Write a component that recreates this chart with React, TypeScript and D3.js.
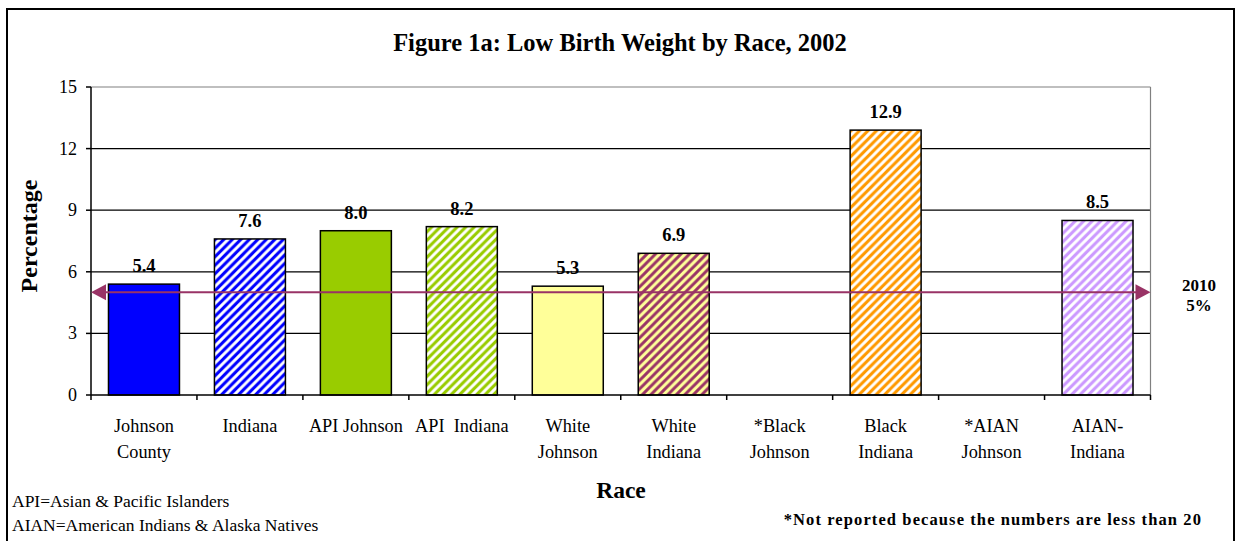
import React from "react";
import * as d3 from "d3";

const categories: string[][] = [
  ["Johnson", "County"],
  ["Indiana"],
  ["API Johnson"],
  ["API  Indiana"],
  ["White", "Johnson"],
  ["White", "Indiana"],
  ["*Black", "Johnson"],
  ["Black", "Indiana"],
  ["*AIAN", "Johnson"],
  ["AIAN-", "Indiana"],
];
const values: (number | null)[] = [5.4, 7.6, 8.0, 8.2, 5.3, 6.9, null, 12.9, null, 8.5];
const fills: string[] = ["#0000FF", "#0000FF", "#99CC00", "#99CC00", "#FFFF99", "#FFFF99", "#FF9900", "#FF9900", "#CC99FF", "#CC99FF"];
const stripes: (string | null)[] = [null, "#FFFFFF", null, "#FFFFFF", null, "#993366", null, "#FFFFFF", null, "#FFFFFF"];
const yTicks: number[] = [0, 3, 6, 9, 12, 15];
const target = 5;

const FONT = "'Liberation Serif', 'Times New Roman', serif";

export default function App() {
  const W = 1236, H = 541;
  const left = 91, right = 1150.5, top = 87, bottom = 395;
  const x = d3.scaleBand<number>().domain(d3.range(categories.length)).range([left, right]).paddingInner(0.33).paddingOuter(0.165);
  const y = d3.scaleLinear().domain([0, 15]).range([bottom, top]);
  const step = (right - left) / categories.length;
  const ty = y(target);
  const P = 8.5;

  return (
    <svg width={W} height={H} style={{ position: "absolute", left: 0, top: 0, fontFamily: FONT }}>
      <defs>
        {fills.map((f, i) =>
          stripes[i] ? (
            <pattern key={i} id={`pat${i}`} patternUnits="userSpaceOnUse" width={P} height={P}>
              <rect width={P} height={P} fill={f} />
              <path d={`M-2,2 L2,-2 M0,${P} L${P},0 M${P - 2},${P + 2} L${P + 2},${P - 2}`} stroke={stripes[i]!} strokeWidth={2.9} />
            </pattern>
          ) : null
        )}
      </defs>
      <rect x={0} y={0} width={W} height={H} fill="#fff" />
      <rect x={7} y={9} width={1227} height={H + 20} fill="none" stroke="#000" strokeWidth={2} />

      <text x={620} y={51} textAnchor="middle" fontWeight="bold" fontSize={24.5}>Figure 1a: Low Birth Weight by Race, 2002</text>

      {/* grid */}
      {yTicks.filter((t) => t > 0 && t < 15).map((t) => (
        <line key={t} x1={left} x2={right} y1={y(t)} y2={y(t)} stroke="#000" strokeWidth={1.2} />
      ))}
      <line x1={left} x2={right} y1={y(15)} y2={y(15)} stroke="#808080" strokeWidth={1.2} />
      <line x1={right} x2={right} y1={top} y2={bottom} stroke="#808080" strokeWidth={1.2} />

      {/* bars */}
      {values.map((v, i) =>
        v == null ? null : (
          <rect key={i} x={x(i)!} y={y(v)} width={x.bandwidth()} height={bottom - y(v)}
            fill={stripes[i] ? `url(#pat${i})` : fills[i]} stroke="#000" strokeWidth={1.5} />
        )
      )}
      {values.map((v, i) =>
        v == null ? null : (
          <text key={i} x={x(i)! + x.bandwidth() / 2} y={y(v) - 12} textAnchor="middle" fontWeight="bold" fontSize={18.5}>
            {v.toFixed(1)}
          </text>
        )
      )}

      {/* axes */}
      <line x1={left} x2={left} y1={top} y2={bottom} stroke="#000" strokeWidth={1.5} />
      <line x1={left} x2={right} y1={bottom} y2={bottom} stroke="#000" strokeWidth={1.5} />
      {yTicks.map((t) => (
        <g key={t}>
          <line x1={left - 5} x2={left} y1={y(t)} y2={y(t)} stroke="#000" strokeWidth={1.5} />
          <text x={77} y={y(t) + 6} textAnchor="end" fontSize={18}>{t}</text>
        </g>
      ))}
      {d3.range(categories.length + 1).map((i) => (
        <line key={i} x1={left + step * i} x2={left + step * i} y1={bottom} y2={bottom + 5} stroke="#000" strokeWidth={1.5} />
      ))}
      {categories.map((c, i) => (
        <text key={i} x={x(i)! + x.bandwidth() / 2} y={432} textAnchor="middle" fontSize={18.3}>
          {c.map((line, j) => (
            <tspan key={j} x={x(i)! + x.bandwidth() / 2} dy={j === 0 ? 0 : 25.5} style={{ whiteSpace: "pre" }}>{line}</tspan>
          ))}
        </text>
      ))}

      <text transform={`translate(37,236) rotate(-90)`} textAnchor="middle" fontWeight="bold" fontSize={24}>Percentage</text>
      <text x={621} y={498} textAnchor="middle" fontWeight="bold" fontSize={23.5}>Race</text>

      {/* target arrow */}
      <line x1={left + 14} x2={right - 14} y1={ty} y2={ty} stroke="#993366" strokeWidth={2} />
      <path d={`M${left},${ty} L${left + 15},${ty - 8} L${left + 15},${ty + 8} Z`} fill="#993366" />
      <path d={`M${right},${ty} L${right - 15},${ty - 8} L${right - 15},${ty + 8} Z`} fill="#993366" />
      <text x={1199} y={291} textAnchor="middle" fontWeight="bold" fontSize={17}>2010</text>
      <text x={1199} y={311} textAnchor="middle" fontWeight="bold" fontSize={17}>5%</text>

      <text x={12} y={507} fontSize={17.5}>API=Asian &amp; Pacific Islanders</text>
      <text x={12} y={531} fontSize={17.5}>AIAN=American Indians &amp; Alaska Natives</text>
      <text x={1202} y={525} textAnchor="end" fontWeight="bold" fontSize={16.5} letterSpacing={1.1}>*Not reported because the numbers are less than 20</text>
    </svg>
  );
}
